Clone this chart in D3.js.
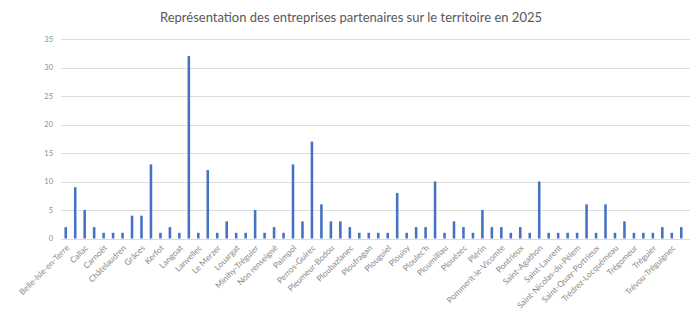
<!DOCTYPE html>
<html>
<head>
<meta charset="utf-8">
<script src="https://cdn.jsdelivr.net/npm/d3@7"></script>
<style>
  html, body { margin: 0; padding: 0; background: #fff; }
  svg { display: block; font-family: "Lato", "Open Sans", sans-serif; }
</style>
</head>
<body>
<svg id="chart" width="697" height="320"></svg>
<script>
// Communes (one bar each); only every other name is printed on the axis.
const communes = [
  "Belle-Isle-en-Terre", "Bourbriac",
  "Callac", "Camlez",
  "Carnoët", "Cavan",
  "Châtelaudren", "Coatréven",
  "Grâces", "Guingamp",
  "Kerfot", "Kermaria-Sulard",
  "Langoat", "Lannion",
  "Lanvellec", "Lanvollon",
  "Le Merzer", "Lézardrieux",
  "Louargat", "Mantallot",
  "Minihy-Tréguier", "Moustéru",
  "Non renseigné", "Pabu",
  "Paimpol", "Penvénan",
  "Perros-Guirec", "Plestin-les-Grèves",
  "Pleumeur-Bodou", "Plouaret",
  "Ploubazlanec", "Plouëc-du-Trieux",
  "Ploufragan", "Plougrescant",
  "Plouguiel", "Plouha",
  "Plouisy", "Ploumagoar",
  "Ploulec'h", "Plounérin",
  "Ploumilliau", "Plounévez-Moëdec",
  "Plouézec", "Plourivo",
  "Plérin", "Pommerit-Jaudy",
  "Pommerit-le-Vicomte", "Pont-Melvez",
  "Pontrieux", "Quemper-Guézennec",
  "Saint-Agathon", "Saint-Clet",
  "Saint-Laurent", "Saint-Michel-en-Grève",
  "Saint-Nicolas-du-Pélem", "Saint-Quay-Perros",
  "Saint-Quay-Portrieux", "Tonquédec",
  "Trédrez-Locquémeau", "Tréduder",
  "Trégomeur", "Trégrom",
  "Tréguier", "Trélévern",
  "Trévou-Tréguignec", "Troguéry"
];

// Number of partner companies per commune
const entreprises = [
  2, 9, 5, 2, 1, 1,
  1, 4, 4, 13, 1, 2,
  1, 32, 1, 12, 1, 3,
  1, 1, 5, 1, 2, 1,
  13, 3, 17, 6, 3, 3,
  2, 1, 1, 1, 1, 8,
  1, 2, 2, 10, 1, 3,
  2, 1, 5, 2, 2, 1,
  2, 1, 10, 1, 1, 1,
  1, 6, 1, 6, 1, 3,
  1, 1, 1, 2, 1, 2
];

const yTicks = [0, 5, 10, 15, 20, 25, 30, 35];
const titre = "Représentation des entreprises partenaires sur le territoire en 2025";

const data = communes.map((c, i) => ({ commune: c, n: entreprises[i] }));

const svg = d3.select("#chart");
const plotLeft = 61, plotRight = 686, plotTop = 39, plotBottom = 238.5;

const pin = 0.73;
const x = d3.scaleBand()
  .domain(communes)
  .range([plotLeft, plotRight])
  .paddingInner(pin)
  .paddingOuter(pin / 2);

const y = d3.scaleLinear().domain([0, 35]).range([plotBottom, plotTop]);

// Title
svg.append("text")
  .attr("x", 351)
  .attr("y", 22)
  .attr("text-anchor", "middle")
  .attr("font-size", 13)
  .attr("fill", "#595959")
  .text(titre);

// Horizontal gridlines
svg.append("g")
  .selectAll("line")
  .data(yTicks)
  .join("line")
  .attr("x1", plotLeft)
  .attr("x2", plotRight + 4)
  .attr("y1", d => Math.round(y(d)) + 0.5)
  .attr("y2", d => Math.round(y(d)) + 0.5)
  .attr("stroke", "#dcdcdc")
  .attr("stroke-width", 1);

// Y axis labels
const yAxis = d3.axisLeft(y).tickValues(yTicks).tickSize(0).tickPadding(0);
const gy = svg.append("g")
  .attr("transform", `translate(${plotLeft - 8},0)`)
  .call(yAxis);
gy.select(".domain").remove();
gy.selectAll("text")
  .attr("font-size", 7.5)
  .attr("fill", "#8c8c8c")
  .attr("font-family", "Lato, sans-serif");

// Bars
svg.append("g")
  .selectAll("rect")
  .data(data)
  .join("rect")
  .attr("x", d => x(d.commune))
  .attr("width", x.bandwidth())
  .attr("y", d => y(d.n))
  .attr("height", d => y(0) - y(d.n))
  .attr("fill", "#4472c4");

// X axis labels: every other commune, rotated
const xAxis = d3.axisBottom(x)
  .tickValues(communes.filter((c, i) => i % 2 === 0))
  .tickSize(0)
  .tickPadding(0);
const gx = svg.append("g")
  .attr("transform", `translate(0,${plotBottom})`)
  .call(xAxis);
gx.select(".domain").remove();
gx.selectAll("text")
  .attr("font-size", 8.3)
  .attr("fill", "#888888")
  .attr("font-family", "Lato, sans-serif")
  .attr("text-anchor", "end")
  .attr("dy", 0)
  .attr("transform", "translate(4,10) rotate(-45)");
</script>
</body>
</html>
